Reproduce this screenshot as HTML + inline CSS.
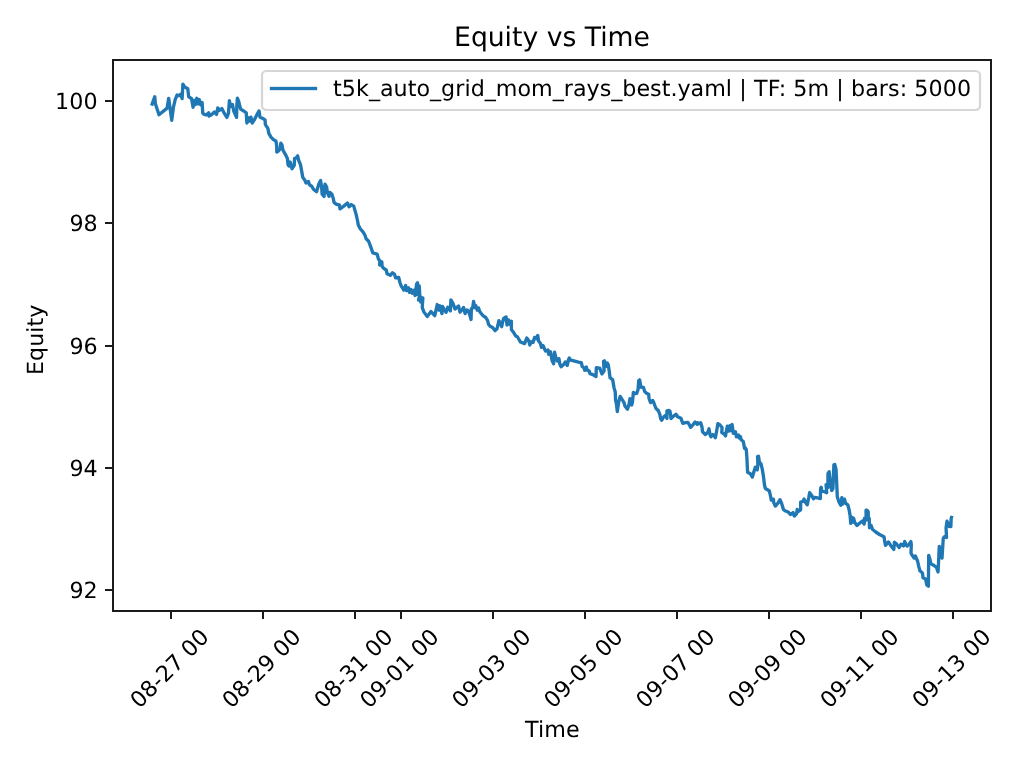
<!DOCTYPE html>
<html lang="en">
<head>
<meta charset="utf-8">
<title>Equity vs Time</title>
<style>
html,body{margin:0;padding:0;background:#fff;width:1024px;height:768px;overflow:hidden}
svg{display:block}
text{font-family:"DejaVu Sans","Liberation Sans",sans-serif;fill:#000;text-rendering:geometricPrecision;white-space:pre}
.t10{font-size:22.2222px}
.t12{font-size:26.6667px}
</style>
</head>
<body>
<svg width="1024" height="768" viewBox="0 0 1024 768">
<rect x="0" y="0" width="1024" height="768" fill="#ffffff"/>
<path d="M152.12 104.06 L154.75 96.75 L155.38 103.75 L159.00 114.69 L167.12 108.12 L168.69 98.31 L171.75 120.38 L173.38 107.50 L175.25 99.38 L177.12 95.00 L179.00 95.62 L180.88 94.06 L182.12 98.56 L182.88 84.06 L184.62 86.88 L187.75 88.75 L188.69 96.88 L191.50 98.44 L193.06 107.31 L194.31 100.50 L195.56 104.50 L196.81 98.31 L198.06 103.88 L199.31 99.56 L200.56 104.69 L202.12 102.50 L202.75 113.12 L203.75 114.12 L206.25 115.06 L208.75 112.88 L209.06 116.00 L211.88 114.44 L214.38 111.94 L215.62 113.50 L216.56 114.44 L217.81 107.88 L219.38 110.38 L221.88 108.50 L224.06 112.88 L226.88 117.38 L228.44 113.50 L229.38 100.56 L230.62 106.62 L232.50 104.44 L233.75 111.00 L236.56 117.38 L236.88 104.75 L237.38 98.06 L238.75 101.62 L240.62 109.12 L243.75 111.00 L246.25 112.88 L246.88 123.00 L248.44 117.75 L249.38 121.12 L250.94 117.12 L252.19 123.00 L254.38 119.75 L256.88 114.75 L259.06 110.88 L260.00 117.25 L262.25 118.06 L265.06 119.94 L265.38 124.62 L267.88 128.38 L268.81 133.38 L271.00 137.12 L273.50 139.62 L276.00 141.19 L276.75 146.50 L276.75 152.12 L278.62 150.88 L280.19 148.69 L280.81 143.25 L282.06 145.25 L283.00 150.25 L285.50 154.62 L287.38 158.38 L288.00 164.62 L288.94 166.00 L290.19 162.00 L292.06 168.69 L294.25 165.25 L294.56 158.38 L296.12 158.06 L297.69 155.88 L298.62 160.25 L300.50 164.62 L301.75 171.50 L302.69 177.12 L304.88 180.25 L305.94 183.00 L308.44 181.44 L309.38 184.56 L311.88 186.44 L313.44 189.25 L316.56 191.75 L318.75 184.25 L320.62 180.38 L321.56 186.75 L322.19 194.25 L324.06 196.44 L324.69 186.75 L325.00 184.12 L326.56 186.75 L327.50 193.00 L329.06 196.25 L330.00 192.38 L331.88 194.25 L333.12 198.00 L334.06 202.38 L336.25 204.25 L339.38 204.88 L340.00 208.94 L343.75 206.12 L347.50 203.00 L349.06 206.75 L351.25 204.56 L353.75 206.12 L355.00 210.62 L356.12 214.38 L357.38 220.00 L358.31 225.00 L360.19 228.75 L363.00 231.88 L364.88 235.00 L366.12 238.75 L368.62 241.25 L370.25 245.62 L371.19 248.12 L372.75 252.81 L377.12 254.06 L378.38 258.75 L379.94 261.25 L379.62 265.00 L381.81 261.88 L382.12 266.25 L383.38 268.12 L386.19 270.00 L387.12 273.75 L390.25 275.31 L392.44 272.81 L394.62 274.38 L395.56 277.81 L398.69 277.50 L399.94 282.50 L401.50 286.56 L402.25 287.50 L403.81 290.12 L405.69 285.50 L406.62 290.62 L408.50 287.81 L409.44 292.31 L411.00 289.56 L412.25 293.25 L414.12 290.19 L415.06 295.44 L416.62 284.06 L417.56 282.81 L417.75 294.50 L419.25 285.81 L419.75 295.00 L418.50 300.00 L420.69 296.88 L420.69 302.00 L422.88 298.00 L422.25 307.50 L423.81 311.88 L427.25 316.56 L431.00 311.56 L434.75 315.62 L437.25 304.56 L439.12 310.12 L440.06 305.81 L441.94 313.56 L442.56 306.44 L444.44 310.00 L446.00 312.31 L447.88 307.19 L450.38 310.94 L450.88 299.88 L452.88 303.12 L455.06 309.06 L458.50 305.94 L460.00 312.19 L462.00 310.00 L463.56 307.38 L465.12 313.56 L467.00 310.00 L468.25 310.62 L469.81 315.00 L471.06 319.50 L471.38 308.75 L472.62 308.12 L473.56 301.44 L474.81 307.62 L475.75 305.50 L477.31 310.12 L478.56 308.00 L479.50 311.25 L481.38 313.75 L483.25 315.94 L485.75 317.50 L487.62 320.62 L488.56 324.38 L490.12 326.25 L492.62 327.50 L495.12 330.62 L497.00 328.75 L497.94 325.00 L498.88 320.62 L500.44 323.12 L501.69 326.69 L502.62 321.88 L503.88 318.12 L506.06 316.88 L507.00 325.12 L508.56 319.88 L509.81 324.19 L511.38 321.12 L511.38 329.38 L513.25 331.88 L515.12 335.00 L516.00 336.25 L517.38 336.75 L520.50 342.06 L524.56 343.62 L526.75 338.00 L528.62 340.50 L529.88 345.00 L531.12 341.75 L533.00 342.38 L534.56 337.38 L536.12 338.62 L537.69 335.38 L538.62 341.12 L540.50 343.62 L541.44 347.38 L543.00 345.50 L545.50 351.12 L548.00 349.88 L548.62 354.25 L550.50 351.75 L552.06 360.50 L553.62 363.75 L554.56 352.25 L556.12 358.62 L557.38 361.12 L558.94 358.62 L559.88 364.25 L561.12 366.81 L564.12 364.00 L565.38 362.00 L567.25 365.38 L568.50 359.62 L569.25 358.06 L570.69 360.12 L574.75 361.19 L578.50 362.12 L581.31 362.75 L582.25 366.50 L584.12 368.06 L584.75 370.38 L586.31 367.00 L587.25 370.25 L589.12 370.88 L590.06 373.69 L592.88 374.62 L596.00 376.50 L596.31 367.75 L599.75 368.06 L601.94 374.00 L604.12 370.88 L603.50 361.50 L604.44 360.88 L605.69 366.62 L607.25 362.94 L608.19 364.62 L609.12 370.25 L610.06 377.75 L612.56 379.62 L612.75 380.12 L614.00 387.62 L615.25 392.00 L615.56 400.12 L616.50 404.50 L617.31 411.50 L618.69 402.00 L620.12 396.38 L622.12 399.50 L624.00 402.62 L624.94 406.06 L627.44 409.19 L629.00 404.50 L629.94 398.75 L631.81 404.94 L632.44 402.00 L633.38 392.31 L635.25 393.56 L636.81 393.25 L638.06 389.50 L638.69 380.75 L639.62 379.81 L640.88 387.00 L643.38 387.31 L644.62 391.38 L646.50 393.25 L648.69 394.19 L649.00 398.25 L650.56 402.62 L652.75 400.44 L654.00 403.25 L655.88 408.25 L658.38 410.75 L659.75 414.25 L660.69 418.62 L661.62 420.31 L663.81 416.75 L665.69 415.19 L666.94 418.44 L666.94 410.81 L669.12 410.50 L670.06 411.44 L671.00 418.62 L673.50 416.12 L676.00 414.25 L677.56 416.75 L681.00 418.31 L681.94 421.12 L682.88 423.31 L685.38 422.69 L687.88 422.38 L689.44 424.88 L690.69 427.38 L692.88 424.88 L695.06 422.06 L697.25 424.25 L697.56 422.69 L699.75 423.62 L700.69 422.69 L701.94 426.75 L702.56 431.75 L705.38 434.56 L707.88 432.06 L709.00 428.81 L710.06 434.88 L711.00 436.75 L712.88 434.56 L715.38 437.69 L716.94 429.25 L717.88 423.62 L720.00 425.00 L722.06 427.50 L721.75 432.50 L724.25 434.06 L725.50 435.94 L726.44 430.62 L727.38 426.12 L728.62 431.06 L729.88 425.81 L730.19 430.75 L732.06 424.56 L732.69 428.75 L733.31 433.44 L735.50 431.88 L736.44 436.88 L738.62 435.00 L739.25 437.94 L740.50 436.75 L741.12 439.69 L743.31 441.56 L744.56 448.44 L744.75 447.25 L746.31 449.75 L746.94 458.50 L747.56 472.25 L750.38 473.81 L752.38 477.06 L754.12 471.00 L755.38 467.12 L757.25 469.88 L757.88 464.75 L757.56 456.62 L758.50 456.31 L759.44 462.25 L761.00 463.81 L762.25 469.12 L763.50 476.62 L764.44 484.75 L765.38 488.50 L769.12 490.69 L769.38 491.06 L770.62 496.38 L771.25 500.12 L773.44 499.19 L773.75 502.62 L775.31 506.06 L778.12 502.94 L780.00 499.69 L781.56 503.25 L783.44 509.50 L785.00 510.75 L788.12 512.00 L790.62 514.50 L793.12 512.62 L794.38 516.06 L796.56 513.88 L797.19 509.38 L798.44 511.38 L800.62 509.81 L800.62 502.00 L803.12 501.38 L804.06 499.06 L805.62 502.62 L807.19 504.81 L808.75 497.62 L809.69 492.62 L811.88 495.75 L813.44 498.88 L814.69 497.31 L817.50 497.94 L820.31 498.56 L820.62 488.25 L821.25 487.31 L821.88 491.38 L822.00 491.12 L824.50 491.75 L826.69 492.69 L826.06 484.75 L827.94 487.50 L827.94 473.62 L829.19 471.75 L830.44 483.00 L831.69 490.50 L832.94 488.62 L833.56 473.62 L833.88 464.88 L834.81 464.56 L836.06 469.56 L836.69 483.00 L837.31 496.75 L838.88 501.75 L840.75 505.31 L841.88 497.56 L842.75 504.06 L844.50 499.12 L845.44 503.00 L847.94 505.12 L849.19 510.12 L850.12 515.75 L850.75 523.38 L852.00 517.50 L852.94 522.12 L853.56 518.12 L854.81 522.62 L857.00 525.44 L859.50 523.25 L862.31 521.06 L864.19 524.00 L864.50 518.12 L866.06 520.25 L866.06 510.12 L867.00 510.12 L868.25 512.00 L868.25 518.88 L869.19 518.25 L869.50 527.75 L871.06 525.31 L872.62 529.50 L875.75 532.00 L879.50 534.50 L883.88 536.69 L884.12 537.25 L884.75 541.62 L885.50 545.38 L888.50 541.94 L891.00 546.00 L893.81 549.44 L894.44 542.25 L896.62 544.12 L899.12 547.56 L901.00 544.12 L903.50 546.00 L904.75 541.50 L906.00 544.75 L907.25 546.00 L909.12 544.12 L910.88 541.62 L911.31 544.75 L911.00 552.88 L912.25 555.38 L914.12 558.19 L915.38 555.88 L917.25 560.38 L917.44 560.50 L918.69 566.12 L919.94 570.81 L922.44 573.00 L923.06 577.69 L925.56 578.94 L926.81 584.88 L928.38 586.12 L928.69 555.38 L929.94 559.25 L930.88 563.62 L934.00 565.50 L936.50 567.38 L938.06 571.88 L938.56 562.25 L939.25 546.50 L942.00 558.12 L943.25 538.50 L944.50 536.62 L946.50 537.56 L946.06 527.88 L947.00 521.19 L949.00 526.44 L949.50 524.00 L950.88 526.62 L951.12 518.81 L951.50 517.50" fill="none" stroke="#1f77b4" stroke-width="3.333" stroke-linejoin="round" stroke-linecap="square"/>
<g stroke="#1b1b1b" stroke-width="2" fill="none" shape-rendering="crispEdges">
<line x1="171" y1="611" x2="171" y2="619"/>
<line x1="263" y1="611" x2="263" y2="619"/>
<line x1="355" y1="611" x2="355" y2="619"/>
<line x1="401" y1="611" x2="401" y2="619"/>
<line x1="493" y1="611" x2="493" y2="619"/>
<line x1="585" y1="611" x2="585" y2="619"/>
<line x1="677" y1="611" x2="677" y2="619"/>
<line x1="769" y1="611" x2="769" y2="619"/>
<line x1="861" y1="611" x2="861" y2="619"/>
<line x1="953" y1="611" x2="953" y2="619"/>
<line x1="105" y1="590" x2="113" y2="590"/>
<line x1="105" y1="468" x2="113" y2="468"/>
<line x1="105" y1="346" x2="113" y2="346"/>
<line x1="105" y1="223" x2="113" y2="223"/>
<line x1="105" y1="101" x2="113" y2="101"/>
<rect x="113" y="60" width="878" height="551"/>
</g>
<text class="t10" transform="translate(171.34 669.15) rotate(-45)" x="-50.94 -36.69 -22.56 -14.44 -0.31 13.81 20.94 35.19" y="5.75">08-27 00</text>
<text class="t10" transform="translate(263.34 669.15) rotate(-45)" x="-50.94 -36.69 -22.56 -14.44 -0.31 13.81 20.94 35.19" y="5.75">08-29 00</text>
<text class="t10" transform="translate(355.34 669.15) rotate(-45)" x="-50.94 -36.69 -22.56 -14.44 -0.31 13.81 20.94 35.19" y="5.75">08-31 00</text>
<text class="t10" transform="translate(401.34 669.15) rotate(-45)" x="-51.00 -36.75 -22.62 -14.50 -0.25 13.88 21.00 35.25" y="5.75">09-01 00</text>
<text class="t10" transform="translate(493.34 669.15) rotate(-45)" x="-51.00 -36.75 -22.62 -14.50 -0.25 13.88 21.00 35.25" y="5.75">09-03 00</text>
<text class="t10" transform="translate(585.34 669.15) rotate(-45)" x="-51.06 -36.81 -22.69 -14.56 -0.31 13.94 21.06 35.31" y="5.75">09-05 00</text>
<text class="t10" transform="translate(677.34 669.15) rotate(-45)" x="-51.00 -36.75 -22.62 -14.50 -0.25 13.88 21.00 35.25" y="5.75">09-07 00</text>
<text class="t10" transform="translate(769.34 669.15) rotate(-45)" x="-51.00 -36.75 -22.62 -14.50 -0.25 13.88 21.00 35.25" y="5.75">09-09 00</text>
<text class="t10" transform="translate(861.34 669.15) rotate(-45)" x="-50.94 -36.69 -22.56 -14.44 -0.31 13.81 20.94 35.19" y="5.75">09-11 00</text>
<text class="t10" transform="translate(953.34 669.15) rotate(-45)" x="-50.94 -36.69 -22.56 -14.44 -0.31 13.81 20.94 35.19" y="5.75">09-13 00</text>
<text class="t10" x="69.50 83.62" y="598.30">92</text>
<text class="t10" x="69.50 83.62" y="476.03">94</text>
<text class="t10" x="69.50 83.62" y="353.75">96</text>
<text class="t10" x="69.50 83.62" y="231.48">98</text>
<text class="t10" x="55.12 69.25 83.50" y="109.20">100</text>
<text class="t12" x="454.01 470.89 487.76 504.51 511.89 522.39 538.14 546.64 562.39 576.26 584.76 600.14 607.51 633.51" y="45.80">Equity vs Time</text>
<text class="t10" x="524.99 538.11 544.36 565.99" y="737.10">Time</text>
<text class="t10" transform="translate(43.00 339.80) rotate(-90)" x="-35.19 -21.19 -7.06 7.06 13.31 22.06" y="0.00">Equity</text>
<rect x="262.00" y="71.00" width="718.00" height="39.00" rx="4.44" ry="4.44" fill="#ffffff" fill-opacity="0.8" stroke="#cccccc" stroke-opacity="0.8" stroke-width="2.222"/>
<rect x="269.83" y="86.83" width="47.34" height="3.34" fill="#1f77b4"/>
<text class="t10" x="333.05 341.80 356.05 368.93 379.93 393.55 407.68 416.43 430.05 441.05 455.18 464.43 470.68 484.80 495.80 517.42 531.05 552.67 563.67 572.92 586.55 599.67 611.30 622.30 636.42 650.05 661.67 670.42 677.42 690.55 704.17 725.80 732.05 739.17 746.80 753.92 767.67 778.67 786.17 793.30 807.55 829.17 836.30 843.92 851.05 865.17 878.80 888.05 899.67 907.17 914.30 928.55 942.80 957.05" y="95.60">t5k_auto_grid_mom_rays_best.yaml | TF: 5m | bars: 5000</text>
</svg>
</body>
</html>
